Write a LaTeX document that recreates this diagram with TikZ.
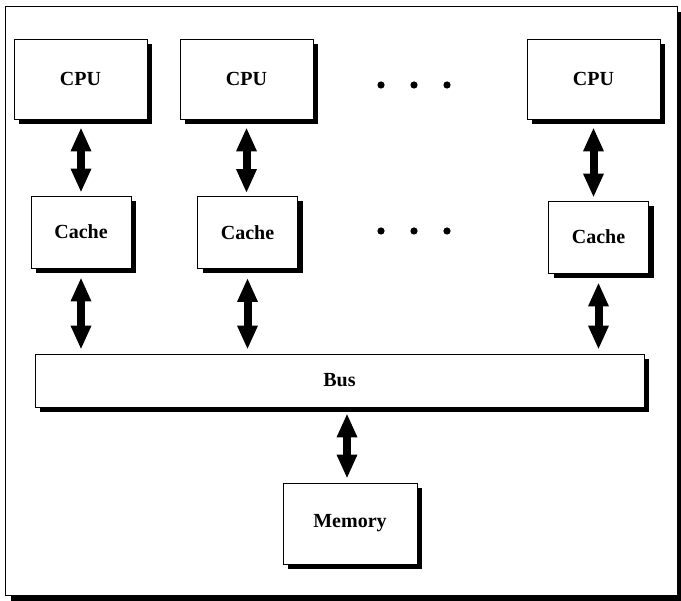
\documentclass[tikz,border=0pt]{standalone}
\usepackage{fontspec}
\setmainfont{Liberation Serif}
\usetikzlibrary{shadows,arrows.meta}
\begin{document}
\begin{tikzpicture}[x=1pt,y=-1pt,
  shade box/.style={draw=black, line width=0.8pt, fill=white, inner sep=0pt,
    font=\fontsize{20}{24}\selectfont\bfseries,
    drop shadow={shadow xshift=5pt, shadow yshift=-5pt, opacity=1, fill=black}},
  cpubox/.style={shade box, minimum width=133pt, minimum height=80pt},
  cachebox/.style={shade box, minimum width=100pt, minimum height=72pt},
  busbox/.style={shade box, minimum width=609pt, minimum height=53pt},
  membox/.style={shade box, minimum width=134pt, minimum height=81pt},
  dbl/.style={line width=8pt, arrows={Triangle[length=24pt,width=19pt]-Triangle[length=24pt,width=19pt]}},
  dotmark/.style={fill=black}
]
\useasboundingbox (0,0) rectangle (681,601);
% outer frame
\fill[black] (11,12) rectangle (681,601);
\draw[line width=0.8pt, fill=white] (5,6) rectangle (677,595);

% boxes
\node[cpubox] (cpu1) at (80.5,79) {CPU};
\node[cpubox] (cpu2) at (246.5,79) {CPU};
\node[cpubox] (cpu3) at (593.5,79) {CPU};
\node[cachebox] (cache1) at (81,232) {Cache};
\node[cachebox] (cache2) at (247.5,232.5) {Cache};
\node[cachebox] (cache3) at (598.5,237) {Cache};
\node[busbox] (bus) at (339.5,380.5) {Bus};
\node[membox] (mem) at (350,523.5) {Memory};

% dots
\foreach \x in {381,414,447}{
  \fill[dotmark] (\x,85) circle (3.6pt);
  \fill[dotmark] (\x,231) circle (3.6pt);
}

% arrows
\draw[dbl, shorten <=8pt, shorten >=3pt] (cpu1.south -| cache1.north) -- (cache1.north);
\draw[dbl, shorten <=8pt, shorten >=3pt] (cpu2.south) -- (cpu2.south |- cache2.north);
\draw[dbl, shorten <=8pt, shorten >=3pt] (cpu3.south) -- (cpu3.south |- cache3.north);
\draw[dbl, shorten <=9pt, shorten >=4pt] (cache1.south) -- (cache1.south |- bus.north);
\draw[dbl, shorten <=9pt, shorten >=4pt] (cache2.south) -- (cache2.south |- bus.north);
\draw[dbl, shorten <=9pt, shorten >=4pt] (cache3.south) -- (cache3.south |- bus.north);
\draw[dbl, shorten <=6pt, shorten >=4pt] ([xshift=-3pt]mem.north |- bus.south) -- ([xshift=-3pt]mem.north);
\end{tikzpicture}
\end{document}
